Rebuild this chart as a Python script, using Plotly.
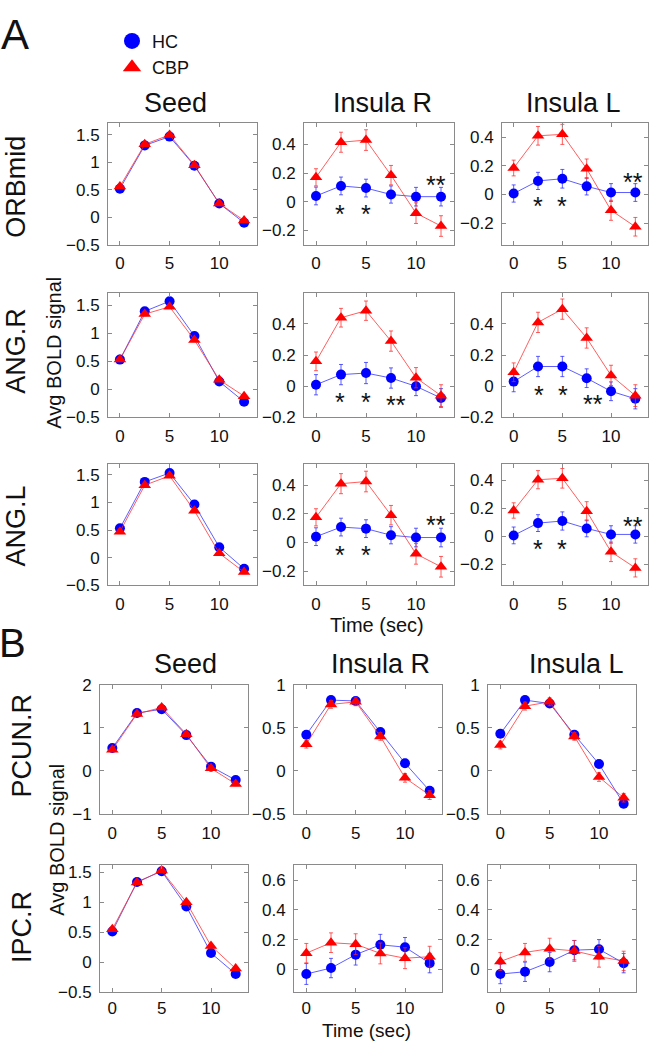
import plotly.graph_objects as go

FONT = "Liberation Sans, Arial, Helvetica, sans-serif"
W, H = 659, 1050

# ---------------- data ----------------
time_sec = [0, 2.5, 5, 7.5, 10, 12.5]

# Panel A, row ORBmid
orb_seed_hc = [0.52, 1.31, 1.47, 0.94, 0.25, -0.10]
orb_seed_hc_err = [0.03, 0.03, 0.03, 0.03, 0.03, 0.03]
orb_seed_cbp = [0.56, 1.33, 1.50, 0.95, 0.25, -0.06]
orb_seed_cbp_err = [0.03, 0.03, 0.03, 0.03, 0.03, 0.03]
orb_insR_hc = [0.04, 0.11, 0.095, 0.05, 0.035, 0.035]
orb_insR_hc_err = [0.062, 0.062, 0.062, 0.06, 0.065, 0.065]
orb_insR_cbp = [0.17, 0.415, 0.43, 0.185, -0.08, -0.17]
orb_insR_cbp_err = [0.06, 0.07, 0.072, 0.068, 0.072, 0.072]
orb_insL_hc = [0.007, 0.095, 0.11, 0.057, 0.014, 0.014]
orb_insL_hc_err = [0.06, 0.06, 0.065, 0.06, 0.062, 0.062]
orb_insL_cbp = [0.185, 0.41, 0.42, 0.18, -0.11, -0.225]
orb_insL_cbp_err = [0.055, 0.065, 0.07, 0.068, 0.07, 0.065]

# Panel A, row ANG.R
angr_seed_hc = [0.53, 1.39, 1.57, 0.95, 0.14, -0.22]
angr_seed_hc_err = [0.03, 0.03, 0.03, 0.03, 0.03, 0.03]
angr_seed_cbp = [0.53, 1.34, 1.47, 0.88, 0.17, -0.12]
angr_seed_cbp_err = [0.03, 0.03, 0.03, 0.03, 0.03, 0.03]
angr_insR_hc = [0.01, 0.075, 0.085, 0.053, 0.0, -0.075]
angr_insR_hc_err = [0.065, 0.065, 0.068, 0.065, 0.06, 0.06]
angr_insR_cbp = [0.16, 0.44, 0.485, 0.29, 0.055, -0.06]
angr_insR_cbp_err = [0.06, 0.06, 0.062, 0.065, 0.065, 0.07]
angr_insL_hc = [0.03, 0.127, 0.127, 0.052, -0.032, -0.08]
angr_insL_hc_err = [0.065, 0.065, 0.065, 0.06, 0.06, 0.065]
angr_insL_cbp = [0.09, 0.41, 0.495, 0.31, 0.07, -0.06]
angr_insL_cbp_err = [0.06, 0.065, 0.065, 0.065, 0.065, 0.07]

# Panel A, row ANG.L
angl_seed_hc = [0.53, 1.37, 1.53, 0.96, 0.19, -0.20]
angl_seed_hc_err = [0.03, 0.03, 0.03, 0.03, 0.03, 0.03]
angl_seed_cbp = [0.47, 1.31, 1.48, 0.85, 0.08, -0.26]
angl_seed_cbp_err = [0.03, 0.03, 0.03, 0.03, 0.03, 0.03]
angl_insR_hc = [0.04, 0.107, 0.096, 0.05, 0.034, 0.034]
angl_insR_hc_err = [0.062, 0.062, 0.062, 0.06, 0.065, 0.065]
angl_insR_cbp = [0.175, 0.41, 0.425, 0.19, -0.08, -0.17]
angl_insR_cbp_err = [0.06, 0.07, 0.072, 0.068, 0.072, 0.072]
angl_insL_hc = [0.007, 0.095, 0.11, 0.057, 0.014, 0.014]
angl_insL_hc_err = [0.06, 0.06, 0.065, 0.06, 0.062, 0.062]
angl_insL_cbp = [0.185, 0.405, 0.415, 0.18, -0.11, -0.225]
angl_insL_cbp_err = [0.055, 0.065, 0.07, 0.068, 0.07, 0.065]

# Panel B, row PCUN.R
pcun_seed_hc = [0.53, 1.34, 1.43, 0.83, 0.10, -0.21]
pcun_seed_hc_err = [0.04, 0.04, 0.04, 0.04, 0.04, 0.04]
pcun_seed_cbp = [0.49, 1.32, 1.47, 0.85, 0.06, -0.30]
pcun_seed_cbp_err = [0.04, 0.04, 0.04, 0.04, 0.04, 0.04]
pcun_insR_hc = [0.42, 0.82, 0.81, 0.45, 0.09, -0.23]
pcun_insR_hc_err = [0.04, 0.04, 0.04, 0.04, 0.045, 0.045]
pcun_insR_cbp = [0.31, 0.77, 0.80, 0.40, -0.08, -0.28]
pcun_insR_cbp_err = [0.045, 0.045, 0.045, 0.045, 0.05, 0.05]
pcun_insL_hc = [0.43, 0.82, 0.78, 0.42, 0.08, -0.38]
pcun_insL_hc_err = [0.04, 0.04, 0.04, 0.04, 0.045, 0.045]
pcun_insL_cbp = [0.30, 0.75, 0.80, 0.40, -0.07, -0.31]
pcun_insL_cbp_err = [0.045, 0.045, 0.045, 0.045, 0.05, 0.05]

# Panel B, row IPC.R
ipc_seed_hc = [0.51, 1.34, 1.52, 0.93, 0.15, -0.20]
ipc_seed_hc_err = [0.03, 0.03, 0.03, 0.03, 0.03, 0.03]
ipc_seed_cbp = [0.55, 1.33, 1.53, 1.00, 0.27, -0.11]
ipc_seed_cbp_err = [0.03, 0.03, 0.03, 0.03, 0.03, 0.03]
ipc_insR_hc = [-0.03, 0.01, 0.10, 0.166, 0.15, 0.043]
ipc_insR_hc_err = [0.07, 0.065, 0.07, 0.07, 0.065, 0.065]
ipc_insR_cbp = [0.11, 0.18, 0.17, 0.108, 0.076, 0.086]
ipc_insR_cbp_err = [0.065, 0.066, 0.07, 0.07, 0.07, 0.07]
ipc_insL_hc = [-0.03, -0.015, 0.05, 0.13, 0.136, 0.043]
ipc_insL_hc_err = [0.065, 0.065, 0.065, 0.065, 0.065, 0.065]
ipc_insL_cbp = [0.054, 0.115, 0.14, 0.125, 0.086, 0.058]
ipc_insL_cbp_err = [0.06, 0.06, 0.07, 0.07, 0.07, 0.065]

col_titles = ["Seed", "Insula R", "Insula L"]
row_labels_A = ["ORBmid", "ANG.R", "ANG.L"]
row_labels_B = ["PCUN.R", "IPC.R"]
group_names = ["HC", "CBP"]

# significance stars: (panel index, x, y, text)
star_panels = [1, 1, 1, 2, 2, 2, 4, 4, 4, 5, 5, 5, 7, 7, 7, 8, 8, 8]
star_x = [2.4, 5.0, 12.0, 2.5, 5.0, 12.3, 2.4, 5.0, 8.0, 2.6, 5.1, 8.2, 2.4, 5.0, 12.0, 2.5, 5.0, 12.3]
star_y = [-0.045, -0.045, 0.16, -0.04, -0.04, 0.13, -0.06, -0.06, -0.08, -0.02, -0.02, -0.075,
          -0.045, -0.045, 0.165, -0.05, -0.05, 0.12]
star_text = ["*", "*", "**", "*", "*", "**", "*", "*", "**", "*", "*", "**", "*", "*", "**", "*", "*", "**"]

# ---------------- layout geometry (pixels) ----------------
A_rows = [(116, 240), (289, 416), (463, 587)]
A_cols = [(108, 257), (304, 454), (502, 648)]
B_rows = [(688, 820), (872, 1001)]
B_cols = [(100, 248), (294, 442), (488, 636)]

seed_ticks = [-0.5, 0, 0.5, 1, 1.5]
ins_ticks = [-0.2, 0, 0.2, 0.4]

panels = [
    (orb_seed_hc, orb_seed_hc_err, orb_seed_cbp, orb_seed_cbp_err, [-0.5, 1.72], seed_ticks, A_cols, A_rows, 0, 0),
    (orb_insR_hc, orb_insR_hc_err, orb_insR_cbp, orb_insR_cbp_err, [-0.3, 0.55], ins_ticks, A_cols, A_rows, 1, 0),
    (orb_insL_hc, orb_insL_hc_err, orb_insL_cbp, orb_insL_cbp_err, [-0.35, 0.5], ins_ticks, A_cols, A_rows, 2, 0),
    (angr_seed_hc, angr_seed_hc_err, angr_seed_cbp, angr_seed_cbp_err, [-0.5, 1.72], seed_ticks, A_cols, A_rows, 0, 1),
    (angr_insR_hc, angr_insR_hc_err, angr_insR_cbp, angr_insR_cbp_err, [-0.2, 0.6], ins_ticks, A_cols, A_rows, 1, 1),
    (angr_insL_hc, angr_insL_hc_err, angr_insL_cbp, angr_insL_cbp_err, [-0.2, 0.6], ins_ticks, A_cols, A_rows, 2, 1),
    (angl_seed_hc, angl_seed_hc_err, angl_seed_cbp, angl_seed_cbp_err, [-0.5, 1.7], seed_ticks, A_cols, A_rows, 0, 2),
    (angl_insR_hc, angl_insR_hc_err, angl_insR_cbp, angl_insR_cbp_err, [-0.3, 0.55], ins_ticks, A_cols, A_rows, 1, 2),
    (angl_insL_hc, angl_insL_hc_err, angl_insL_cbp, angl_insL_cbp_err, [-0.35, 0.52], ins_ticks, A_cols, A_rows, 2, 2),
    (pcun_seed_hc, pcun_seed_hc_err, pcun_seed_cbp, pcun_seed_cbp_err, [-1, 2], [-1, 0, 1, 2], B_cols, B_rows, 0, 0),
    (pcun_insR_hc, pcun_insR_hc_err, pcun_insR_cbp, pcun_insR_cbp_err, [-0.5, 1], [-0.5, 0, 0.5, 1], B_cols, B_rows, 1, 0),
    (pcun_insL_hc, pcun_insL_hc_err, pcun_insL_cbp, pcun_insL_cbp_err, [-0.5, 1], [-0.5, 0, 0.5, 1], B_cols, B_rows, 2, 0),
    (ipc_seed_hc, ipc_seed_hc_err, ipc_seed_cbp, ipc_seed_cbp_err, [-0.5, 1.62], seed_ticks, B_cols, B_rows, 0, 1),
    (ipc_insR_hc, ipc_insR_hc_err, ipc_insR_cbp, ipc_insR_cbp_err, [-0.15, 0.7], [0, 0.2, 0.4, 0.6], B_cols, B_rows, 1, 1),
    (ipc_insL_hc, ipc_insL_hc_err, ipc_insL_cbp, ipc_insL_cbp_err, [-0.15, 0.7], [0, 0.2, 0.4, 0.6], B_cols, B_rows, 2, 1),
]

BLUE = "#0000ff"
RED = "#ff0000"
BLUE_L = "rgba(40,40,255,0.75)"
RED_L = "rgba(255,40,40,0.75)"
AXC = "#8a8a8a"


def fmt(v):
    s = f"{v:g}"
    return s.replace("-", "\u2212")


fig = go.Figure()
layout_axes = {}

for i, (hc, hce, cbp, cbpe, yr, yt, cols, rows, ci, ri) in enumerate(panels):
    n = i + 1
    xa = "x" if n == 1 else f"x{n}"
    ya = "y" if n == 1 else f"y{n}"
    fig.add_trace(go.Scatter(
        x=time_sec, y=hc, mode="lines+markers", xaxis=xa, yaxis=ya,
        line=dict(color=BLUE_L, width=1),
        marker=dict(symbol="circle", size=10, color=BLUE),
        error_y=dict(type="data", array=hce, visible=True, color=BLUE_L, thickness=1, width=2),
        showlegend=False, name="HC"))
    fig.add_trace(go.Scatter(
        x=time_sec, y=cbp, mode="lines+markers", xaxis=xa, yaxis=ya,
        line=dict(color=RED_L, width=1),
        marker=dict(symbol="triangle-up", size=11, color=RED),
        error_y=dict(type="data", array=cbpe, visible=True, color=RED_L, thickness=1, width=2),
        showlegend=False, name="CBP"))
    l, r = cols[ci]
    t, b = rows[ri]
    xr = [-1.2, 13.8] if cols is A_cols else [-1.25, 13.75]
    last_row = (cols is B_cols and ri == 1)
    common = dict(showline=True, linecolor=AXC, linewidth=1, mirror="ticks",
                  ticks="inside", ticklen=4, tickcolor=AXC, tickwidth=1,
                  showgrid=False, zeroline=False,
                  tickfont=dict(family=FONT, size=17, color="#111"))
    xkey = "xaxis" if n == 1 else f"xaxis{n}"
    ykey = "yaxis" if n == 1 else f"yaxis{n}"
    layout_axes[xkey] = dict(common, domain=[l / W, r / W], range=xr, anchor=ya,
                             tickmode="array", tickvals=[0, 5, 10], ticktext=["0", "5", "10"],
                             ticklabelstandoff=1 if last_row else 3)
    layout_axes[ykey] = dict(common, domain=[1 - b / H, 1 - t / H], range=yr, anchor=xa,
                             tickmode="array", tickvals=yt, ticktext=[fmt(v) for v in yt],
                             ticklabelstandoff=4)

# legend-only entries
fig.add_trace(go.Scatter(x=[None], y=[None], mode="markers", name=group_names[0],
                         marker=dict(symbol="circle", size=16, color=BLUE), showlegend=True))
fig.add_trace(go.Scatter(x=[None], y=[None], mode="markers", name=group_names[1],
                         marker=dict(symbol="triangle-up", size=16, color=RED), showlegend=True))

annotations = []


def pa(text, x, y, size, angle=0, **kw):
    annotations.append(dict(text=text, x=x / W, y=1 - y / H, xref="paper", yref="paper",
                            showarrow=False, textangle=angle, xanchor="center", yanchor="middle",
                            font=dict(family=FONT, size=size, color="#111"), **kw))


pa("A", 15, 26, 42)
pa("B", 12, 646, 40)
for txt, x in zip(col_titles, [175, 382, 573]):
    pa(txt, x, 96, 27)
for txt, x in zip(col_titles, [185, 380, 576]):
    pa(txt, x, 667, 27)
for txt, y in zip(row_labels_A, [181, 348, 527]):
    pa(txt, 16, y, 27, angle=-90)
for txt, y in zip(row_labels_B, [750, 935]):
    pa(txt, 22, y, 27, angle=-90)
pa("Avg BOLD signal", 54, 350, 20, angle=-90)
pa("Avg BOLD signal", 57, 846, 20, angle=-90)
pa("Time (sec)", 377, 627, 20)
pa("Time (sec)", 366, 1040, 19)

for p, sx, sy, st in zip(star_panels, star_x, star_y, star_text):
    n = p + 1
    annotations.append(dict(text=st, x=sx, y=sy,
                            xref="x" if n == 1 else f"x{n}", yref="y" if n == 1 else f"y{n}",
                            showarrow=False, xanchor="center", yanchor="middle", yshift=-6,
                            font=dict(family=FONT, size=25, color="#111")))

fig.update_layout(
    width=W, height=H, autosize=False,
    margin=dict(l=0, r=0, t=0, b=0),
    paper_bgcolor="white", plot_bgcolor="white",
    annotations=annotations,
    showlegend=True,
    legend=dict(x=112 / W, y=1 - 14 / H, xanchor="left", yanchor="top",
                font=dict(family=FONT, size=18, color="#111"),
                bgcolor="rgba(0,0,0,0)", borderwidth=0, tracegroupgap=0),
    **layout_axes,
)

fig.write_html("out.html", config={"displayModeBar": False},
               post_script="document.body.style.margin='0';document.body.style.overflow='hidden';")
